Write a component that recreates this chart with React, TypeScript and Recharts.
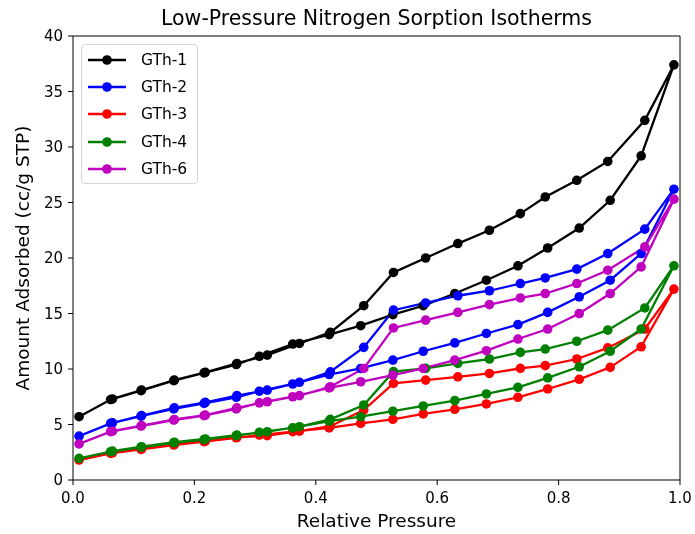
import { LineChart, Line, XAxis, YAxis, Label, ReferenceLine } from 'recharts';

// relative pressure (P/P0) for the adsorption and desorption legs
const adsX = [0.01, 0.062, 0.112, 0.166, 0.216, 0.269, 0.307, 0.362, 0.422, 0.474, 0.527, 0.577, 0.629, 0.681, 0.733, 0.782, 0.834, 0.885, 0.936, 0.99];
const desX = [0.942, 0.881, 0.830, 0.778, 0.737, 0.686, 0.634, 0.581, 0.528, 0.479, 0.424, 0.373, 0.320, 0.270, 0.218, 0.167, 0.113, 0.065];

const gth1Ads = [5.7, 7.25, 8.05, 8.95, 9.65, 10.4, 11.15, 12.25, 13.1, 13.9, 14.9, 15.7, 16.8, 18.0, 19.3, 20.9, 22.7, 25.2, 29.2, 37.4];
const gth1Des = [32.4, 28.7, 27.0, 25.5, 24.0, 22.5, 21.3, 20.0, 18.7, 15.7, 13.3, 12.3, 11.25, 10.5, 9.7, 9.0, 8.1, 7.3];
const gth2Ads = [3.95, 5.1, 5.75, 6.4, 6.9, 7.45, 8.0, 8.65, 9.5, 10.05, 10.8, 11.6, 12.35, 13.2, 14.0, 15.1, 16.5, 18.0, 20.4, 26.2];
const gth2Des = [22.6, 20.4, 19.0, 18.2, 17.7, 17.05, 16.6, 15.95, 15.3, 11.95, 9.75, 8.8, 8.1, 7.6, 7.0, 6.5, 5.8, 5.15];
const gth3Ads = [1.8, 2.4, 2.75, 3.15, 3.45, 3.8, 4.05, 4.35, 4.7, 5.1, 5.47, 5.95, 6.37, 6.85, 7.45, 8.2, 9.07, 10.15, 12.0, 17.2];
const gth3Des = [13.6, 11.9, 10.9, 10.3, 10.06, 9.6, 9.3, 9.0, 8.7, 6.3, 4.85, 4.4, 4.0, 3.85, 3.5, 3.2, 2.8, 2.45];
const gth4Ads = [1.95, 2.55, 2.95, 3.35, 3.65, 4.0, 4.3, 4.7, 5.3, 5.7, 6.2, 6.67, 7.15, 7.75, 8.35, 9.2, 10.2, 11.6, 13.6, 19.3];
const gth4Des = [15.5, 13.5, 12.5, 11.8, 11.5, 10.9, 10.5, 10.06, 9.76, 6.76, 5.47, 4.8, 4.35, 4.05, 3.7, 3.4, 3.0, 2.6];
const gth6Ads = [3.25, 4.35, 4.86, 5.4, 5.8, 6.4, 6.95, 7.5, 8.3, 8.85, 9.45, 10.05, 10.8, 11.65, 12.7, 13.6, 15.0, 16.8, 19.2, 25.3];
const gth6Des = [21.0, 18.9, 17.7, 16.8, 16.4, 15.8, 15.1, 14.4, 13.7, 10.05, 8.4, 7.6, 7.05, 6.5, 5.85, 5.45, 4.9, 4.4];

const names = ['GTh-1', 'GTh-2', 'GTh-3', 'GTh-4', 'GTh-6'];
const colors = ['#000000', '#0000ff', '#ff0000', '#008000', '#bf00bf'];
const xTicks = [0, 0.2, 0.4, 0.6, 0.8, 1.0];
const yTicks = [0, 5, 10, 15, 20, 25, 30, 35, 40];

// adsorption leg up, then desorption leg back down, as one loop
const loop = (ads: number[], des: number[]) => [
  ...ads.map((y, i) => ({ x: adsX[i], y })),
  ...des.map((y, i) => ({ x: desX[i], y })),
];

const series = [
  loop(gth1Ads, gth1Des),
  loop(gth2Ads, gth2Des),
  loop(gth3Ads, gth3Des),
  loop(gth4Ads, gth4Des),
  loop(gth6Ads, gth6Des),
];

const font = 'DejaVu Sans, sans-serif';
const tickStyle = { fill: '#000', fontSize: 15, fontFamily: font };
const labelStyle = { fill: '#000', fontSize: 18.5, fontFamily: font, textAnchor: 'middle' as const };

function LegendBox() {
  return (
    <div style={styles.legend}>
      {names.map((n, i) => (
        <div key={n} style={styles.legendRow}>
          <svg width={38} height={12} style={{ marginRight: 15 }}>
            <line x1={0} y1={6} x2={38} y2={6} stroke={colors[i]} strokeWidth={2.3} />
            <circle cx={19} cy={6} r={4.8} fill={colors[i]} />
          </svg>
          <span>{n}</span>
        </div>
      ))}
    </div>
  );
}

export default function App() {
  return (
    <div style={styles.wrap}>
      <div style={styles.title}>Low-Pressure Nitrogen Sorption Isotherms</div>
      <LineChart width={687} height={526} margin={{ top: 28, right: 15, left: 15, bottom: 0 }}>
        <XAxis
          dataKey="x" type="number" domain={[0, 1]} ticks={xTicks} allowDataOverflow
          tickFormatter={(v: number) => v.toFixed(1)} tick={tickStyle} tickSize={5} tickMargin={7}
          stroke="#000" height={54}
        >
          <Label value="Relative Pressure" position="insideBottom" offset={7} style={labelStyle} />
        </XAxis>
        <YAxis
          type="number" domain={[0, 40]} ticks={yTicks} tick={tickStyle} tickSize={5} tickMargin={5}
          stroke="#000" width={50} allowDataOverflow
        >
          <Label value="Amount Adsorbed (cc/g STP)" angle={-90} position="insideLeft" offset={0} dx={-1} style={labelStyle} />
        </YAxis>
        <ReferenceLine y={40} stroke="#000" strokeWidth={1} />
        <ReferenceLine x={1} stroke="#000" strokeWidth={1} />
        {series.map((d, i) => (
          <Line
            key={names[i]} data={d} dataKey="y" name={names[i]} stroke={colors[i]} strokeWidth={2.3}
            dot={{ r: 4.8, fill: colors[i], stroke: colors[i], strokeWidth: 0 }} isAnimationActive={false}
          />
        ))}
      </LineChart>
      <LegendBox />
    </div>
  );
}

const styles: Record<string, React.CSSProperties> = {
  wrap: { position: 'fixed', top: 8, left: 8, width: 687, height: 526, fontFamily: font, background: '#fff' },
  title: {
    position: 'absolute', top: -2, left: 65, width: 607, textAlign: 'center',
    fontSize: 20.5, color: '#000', lineHeight: '24px',
  },
  legend: {
    position: 'absolute', top: 36, left: 73, width: 117, boxSizing: 'border-box',
    border: '1px solid #d6d6d6', borderRadius: 4, background: 'rgba(255,255,255,0.8)',
    padding: '1px 0 1px 6px', fontSize: 15.5, color: '#000',
  },
  legendRow: { display: 'flex', alignItems: 'center', height: 27.3 },
};
